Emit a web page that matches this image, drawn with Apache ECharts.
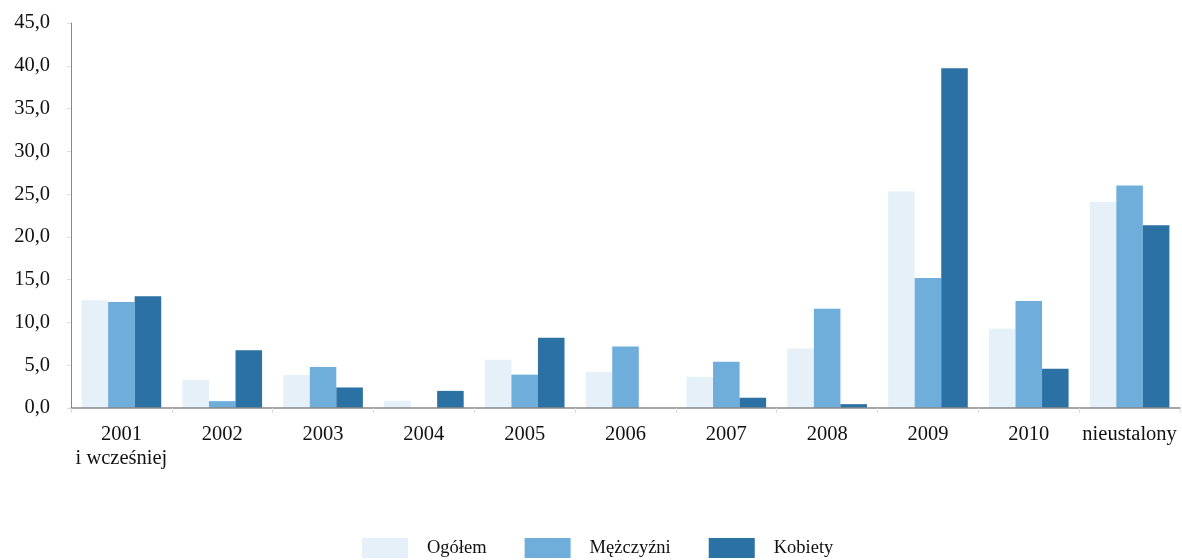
<!DOCTYPE html>
<html>
<head>
<meta charset="utf-8">
<script src="https://cdn.jsdelivr.net/npm/echarts@6/dist/echarts.min.js"></script>
<style>
  html, body { margin: 0; padding: 0; background: #fff; }
  #chart { width: 1182px; height: 560px; }
</style>
</head>
<body>
<div id="chart"></div>
<script>
var categories = ["2001\ni wcześniej", "2002", "2003", "2004", "2005", "2006", "2007", "2008", "2009", "2010", "nieustalony"];
var ogolem = [12.6, 3.3, 3.85, 0.85, 5.65, 4.25, 3.65, 6.95, 25.3, 9.25, 24.1];
var mezczyzni = [12.4, 0.8, 4.8, 0, 3.9, 7.2, 5.4, 11.6, 15.2, 12.5, 26.0];
var kobiety = [13.05, 6.75, 2.4, 2.0, 8.2, 0, 1.2, 0.45, 39.7, 4.6, 21.35];

var font = "Liberation Serif";
var chart = echarts.init(document.getElementById("chart"));

function bar(name, data, color) {
  return {
    name: name,
    type: "bar",
    data: data,
    barGap: "0%",
    barCategoryGap: "21%",
    itemStyle: { color: color },
  };
}

chart.setOption({
  animation: false,
  textStyle: { fontFamily: font },
  grid: { left: 71, right: 2, top: 23, bottom: 152, containLabel: false },
  legend: {
    top: 538,
    left: 362,
    padding: 0,
    itemWidth: 46,
    itemHeight: 20,
    itemGap: 38,
    icon: "rect",
    textStyle: { fontFamily: font, fontSize: 18.5, color: "#111", padding: [0, 0, 0, 14] },
    data: ["Ogółem", "Mężczyźni", "Kobiety"],
  },
  xAxis: {
    type: "category",
    data: categories,
    z: 5,
    axisLine: { lineStyle: { color: "#888", width: 1.5 } },
    axisTick: { show: true, length: 5, lineStyle: { color: "#ddd" } },
    axisLabel: { fontFamily: font, fontSize: 20.5, color: "#111", margin: 15, lineHeight: 24, interval: 0 },
  },
  yAxis: {
    type: "value",
    min: 0,
    max: 45,
    interval: 5,
    splitLine: { show: false },
    axisLine: { show: true, lineStyle: { color: "#888" } },
    axisTick: { show: true, length: 4, lineStyle: { color: "#ddd" } },
    axisLabel: {
      fontFamily: font,
      fontSize: 20.5,
      color: "#111",
      margin: 21,
      formatter: function (v) { return v.toFixed(1).replace(".", ","); },
    },
  },
  series: [
    bar("Ogółem", ogolem, "#E6F0F9"),
    bar("Mężczyźni", mezczyzni, "#6FADDA"),
    bar("Kobiety", kobiety, "#2C71A4"),
  ],
});
</script>
</body>
</html>
